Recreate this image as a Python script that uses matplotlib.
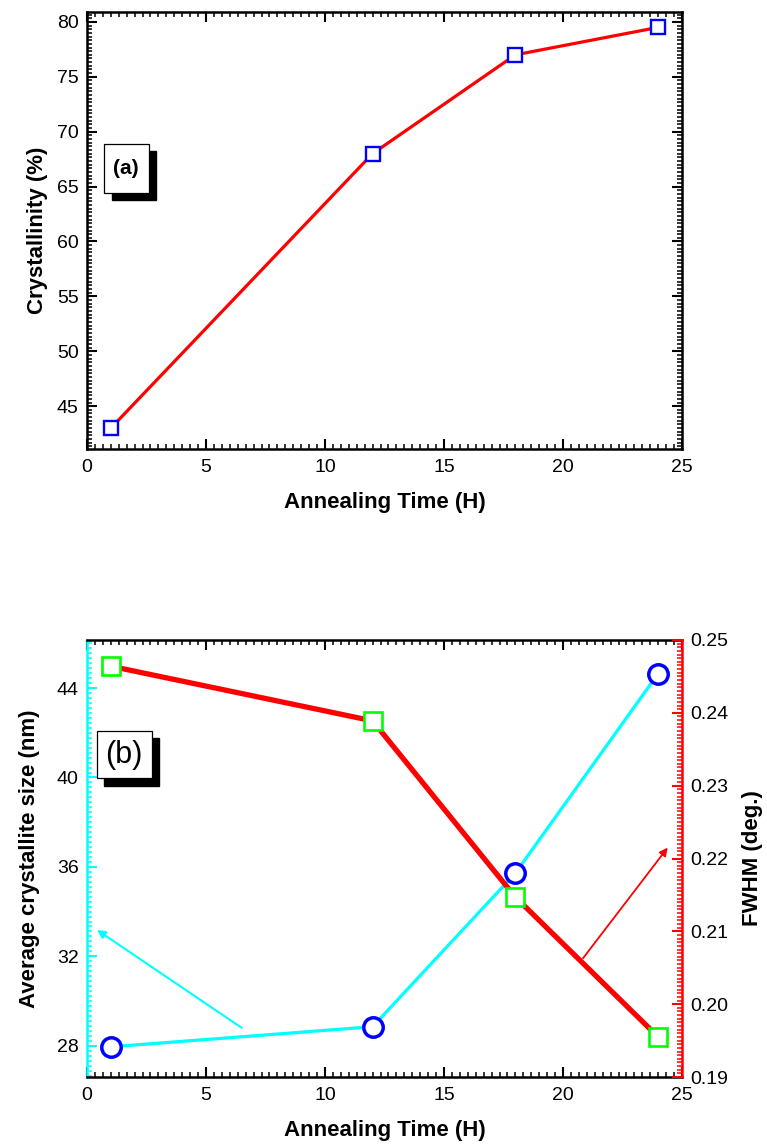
import matplotlib
matplotlib.use("Agg")
import matplotlib.pyplot as plt
from matplotlib.patches import Rectangle
from matplotlib.ticker import MultipleLocator, AutoMinorLocator, FormatStrFormatter

plt.rcParams['font.family'] = ['Liberation Sans', 'DejaVu Sans']

# (a) crystallinity vs annealing time
time_a = [1, 12, 18, 24]
crystallinity = [43.0, 68.0, 77.0, 79.5]

# (b) crystallite size and FWHM vs annealing time
time_b = [1, 12, 18, 24]
cryst_size = [27.95, 28.85, 35.72, 44.65]
fwhm = [0.2464, 0.2389, 0.2147, 0.1955]

RED = '#ff0000'
BLUE = '#0000ff'
CYAN = '#00ffff'
GREEN = '#00ff00'

TICK_FS = 14
LABEL_FS = 16


def style_ticks(ax):
    ax.tick_params(which='major', direction='in', length=7, width=1.5, labelsize=TICK_FS)
    ax.tick_params(which='minor', direction='in', length=3.5, width=1.1)
    ax.tick_params(axis='x', which='major', pad=7)
    ax.tick_params(axis='y', which='major', pad=6)


def label_box(ax, text, box, shadow, pos, **kw):
    ax.add_patch(Rectangle((shadow[0], shadow[1]), shadow[2] - shadow[0], shadow[3] - shadow[1],
                           transform=ax.transAxes, facecolor='black', edgecolor='black', zorder=5))
    ax.add_patch(Rectangle((box[0], box[1]), box[2] - box[0], box[3] - box[1],
                           transform=ax.transAxes, facecolor='white', edgecolor='black',
                           linewidth=0.9, zorder=6))
    ax.text(pos[0], pos[1], text, transform=ax.transAxes, ha='center', va='center', zorder=7, **kw)


fig = plt.figure(figsize=(7.67, 11.44), dpi=100)

# ---- panel (a)
ax1 = fig.add_axes([87 / 767, 1 - 449 / 1144, 595 / 767, 437 / 1144])
ax1.plot(time_a, crystallinity, '-', color=RED, lw=2.3, zorder=3)
ax1.plot(time_a, crystallinity, 's', ms=10.5, mfc='white', mec=BLUE, mew=1.7, zorder=4)
ax1.set_xlim(0, 25)
ax1.set_ylim(41.1, 80.9)
ax1.xaxis.set_major_locator(MultipleLocator(5))
ax1.xaxis.set_minor_locator(AutoMinorLocator(15))
ax1.yaxis.set_major_locator(MultipleLocator(5))
ax1.yaxis.set_minor_locator(AutoMinorLocator(15))
ax1.tick_params(which='both', top=True, right=True)
style_ticks(ax1)
for s in ax1.spines.values():
    s.set_linewidth(1.8)
ax1.set_xlabel('Annealing Time (H)', fontsize=LABEL_FS, fontweight='bold', labelpad=12)
ax1.set_ylabel('Crystallinity (%)', fontsize=LABEL_FS, fontweight='bold', labelpad=6)
label_box(ax1, '(a)', (0.0286, 0.586, 0.104, 0.698), (0.042, 0.570, 0.116, 0.682),
          (0.066, 0.643), fontsize=15, fontweight='bold')

# ---- panel (b)
ax2 = fig.add_axes([87 / 767, 1 - 1077 / 1144, 595 / 767, 437 / 1144])
ax3 = ax2.twinx()

ax2.plot(time_b, cryst_size, '-', color=CYAN, lw=2.3, zorder=3)
ax2.plot(time_b, cryst_size, 'o', ms=14, mfc='white', mec=BLUE, mew=2.5, zorder=4)
ax2.set_xlim(0, 25)
ax2.set_ylim(26.6, 46.15)
ax2.xaxis.set_major_locator(MultipleLocator(5))
ax2.xaxis.set_minor_locator(AutoMinorLocator(15))
ax2.yaxis.set_major_locator(MultipleLocator(4))
ax2.yaxis.set_minor_locator(AutoMinorLocator(18))
ax2.tick_params(which='both', top=True, right=False)
style_ticks(ax2)
ax2.tick_params(axis='y', which='both', color=CYAN)
for s in ax2.spines.values():
    s.set_linewidth(1.8)
ax2.spines['left'].set_color(CYAN)
ax2.spines['right'].set_visible(False)
ax2.set_xlabel('Annealing Time (H)', fontsize=LABEL_FS, fontweight='bold', labelpad=12)
ax2.set_ylabel('Average crystallite size (nm)', fontsize=LABEL_FS, fontweight='bold', labelpad=12)
ax2.annotate('', xy=(0.42, 33.18), xytext=(6.5, 28.8),
             arrowprops=dict(arrowstyle='-|>', color=CYAN, lw=1.5, mutation_scale=12,
                             shrinkA=0, shrinkB=0), zorder=5)

ax3.plot(time_b, fwhm, '-', color=RED, lw=3.8, zorder=3)
ax3.plot(time_b, fwhm, 's', ms=13, mfc='white', mec=GREEN, mew=1.9, zorder=4)
ax3.set_ylim(0.19, 0.25)
ax3.yaxis.set_major_locator(MultipleLocator(0.01))
ax3.yaxis.set_minor_locator(AutoMinorLocator(20))
ax3.yaxis.set_major_formatter(FormatStrFormatter('%.2f'))
style_ticks(ax3)
ax3.tick_params(axis='y', which='both', color=RED, labelcolor='black')
for s in ax3.spines.values():
    s.set_linewidth(1.8)
ax3.spines['right'].set_color(RED)
ax3.spines['left'].set_visible(False)
ax3.spines['top'].set_visible(False)
ax3.spines['bottom'].set_visible(False)
ax3.set_ylabel('FWHM (deg.)', fontsize=LABEL_FS, fontweight='bold', labelpad=10)
ax3.annotate('', xy=(24.4, 0.2215), xytext=(20.84, 0.2063),
             arrowprops=dict(arrowstyle='-|>', color=RED, lw=1.3, mutation_scale=12,
                             shrinkA=0, shrinkB=0), zorder=5)

label_box(ax3, '(b)', (0.0168, 0.684, 0.1092, 0.792), (0.0286, 0.666, 0.121, 0.776),
          (0.062, 0.737), fontsize=22)

fig.savefig('out.png', dpi=100)
